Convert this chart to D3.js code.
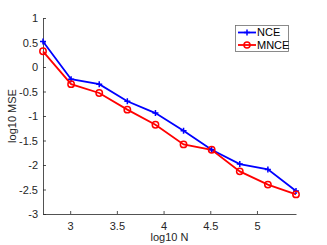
<!DOCTYPE html>
<html>
<head>
<meta charset="utf-8">
<script src="https://cdn.jsdelivr.net/npm/d3@7"></script>
<style>
  body { margin: 0; background: #fff; }
  svg text { font-family: "Liberation Sans", Arial, sans-serif; }
</style>
</head>
<body>
<div id="chart"></div>
<script>
// données : N = 2^9 .. 2^18
const logN = [2.709, 3.010, 3.311, 3.612, 3.913, 4.214, 4.515, 4.816, 5.117, 5.418];
const nce = [0.52, -0.25, -0.35, -0.70, -0.94, -1.30, -1.69, -1.98, -2.09, -2.53];
const mnce = [0.32, -0.35, -0.53, -0.87, -1.18, -1.58, -1.69, -2.13, -2.40, -2.60];
const xTicks = [3, 3.5, 4, 4.5, 5];
const yTicks = [-3, -2.5, -2, -1.5, -1, -0.5, 0, 0.5, 1];
const seriesNames = ["NCE", "MNCE"];

const width = 327, height = 245;
const margin = {left: 43, right: 31, top: 18, bottom: 31};
const axisColor = "#262626";

const svg = d3.select('#chart').append('svg')
  .attr('width', width)
  .attr('height', height);

const x = d3.scaleLinear()
  .domain([logN[0], logN[logN.length - 1]])
  .range([margin.left, width - margin.right]);
const y = d3.scaleLinear()
  .domain([-3, 1])
  .range([height - margin.bottom, margin.top]);

// axes
const xAxis = svg.append('g')
  .attr('transform', `translate(0,${height - margin.bottom})`)
  .call(d3.axisBottom(x).tickValues(xTicks).tickSizeInner(-3).tickSizeOuter(0).tickPadding(8)
    .tickFormat(d3.format('')));
const yAxis = svg.append('g')
  .attr('transform', `translate(${margin.left},0)`)
  .call(d3.axisLeft(y).tickValues(yTicks).tickSizeInner(-3).tickSizeOuter(0).tickPadding(5)
    .tickFormat(d => d === 0 ? '0' : d3.format('')(d).replace('−', '-')));

[xAxis, yAxis].forEach(a => {
  a.select('.domain').attr('stroke', axisColor).attr('stroke-width', 0.8);
  a.selectAll('.tick line').attr('stroke', axisColor).attr('stroke-width', 0.8);
  a.selectAll('.tick text').attr('fill', axisColor).style('font-size', '11px');
});

svg.append('text')
  .attr('x', (margin.left + width - margin.right) / 2)
  .attr('y', 241)
  .attr('text-anchor', 'middle')
  .attr('fill', axisColor)
  .style('font-size', '11px')
  .text('log10 N');

svg.append('text')
  .attr('transform', `translate(12,${(margin.top + height - margin.bottom) / 2}) rotate(-90)`)
  .attr('text-anchor', 'middle')
  .attr('dy', '0.35em')
  .attr('fill', axisColor)
  .style('font-size', '11px')
  .text('log10 MSE');

// lignes
const line = d3.line().x((d, i) => x(logN[i])).y(d => y(d));

svg.append('path').datum(nce)
  .attr('d', line).attr('fill', 'none').attr('stroke', '#0000ff').attr('stroke-width', 1.8);
svg.append('path').datum(mnce)
  .attr('d', line).attr('fill', 'none').attr('stroke', '#ff0000').attr('stroke-width', 1.8);

// marqueurs
const plus = svg.append('g');
nce.forEach((v, i) => {
  plus.append('path')
    .attr('d', `M${x(logN[i]) - 3},${y(v)}h6M${x(logN[i])},${y(v) - 3}v6`)
    .attr('stroke', '#0000ff').attr('stroke-width', 1.5);
});
svg.append('g').selectAll('circle').data(mnce).join('circle')
  .attr('cx', (d, i) => x(logN[i]))
  .attr('cy', d => y(d))
  .attr('r', 3.2)
  .attr('fill', 'none')
  .attr('stroke', '#ff0000')
  .attr('stroke-width', 1.5);

// légende
const lg = svg.append('g');
lg.append('rect')
  .attr('x', 235.5).attr('y', 25.5).attr('width', 53).attr('height', 26)
  .attr('fill', '#fff').attr('stroke', '#6e6e6e').attr('stroke-width', 0.8);
const colors = ['#0000ff', '#ff0000'];
seriesNames.forEach((name, i) => {
  const ly = 32.5 + i * 12.5;
  lg.append('line').attr('x1', 238).attr('x2', 256).attr('y1', ly).attr('y2', ly)
    .attr('stroke', colors[i]).attr('stroke-width', 1.8);
  if (i === 0) {
    lg.append('path').attr('d', `M244,${ly}h6M247,${ly - 3}v6`)
      .attr('stroke', colors[i]).attr('stroke-width', 1.5);
  } else {
    lg.append('circle').attr('cx', 247).attr('cy', ly).attr('r', 3)
      .attr('fill', 'none').attr('stroke', colors[i]).attr('stroke-width', 1.5);
  }
  lg.append('text').attr('x', 257).attr('y', ly).attr('dy', '0.35em')
    .attr('fill', '#000').style('font-size', '11px').text(name);
});
</script>
</body>
</html>
